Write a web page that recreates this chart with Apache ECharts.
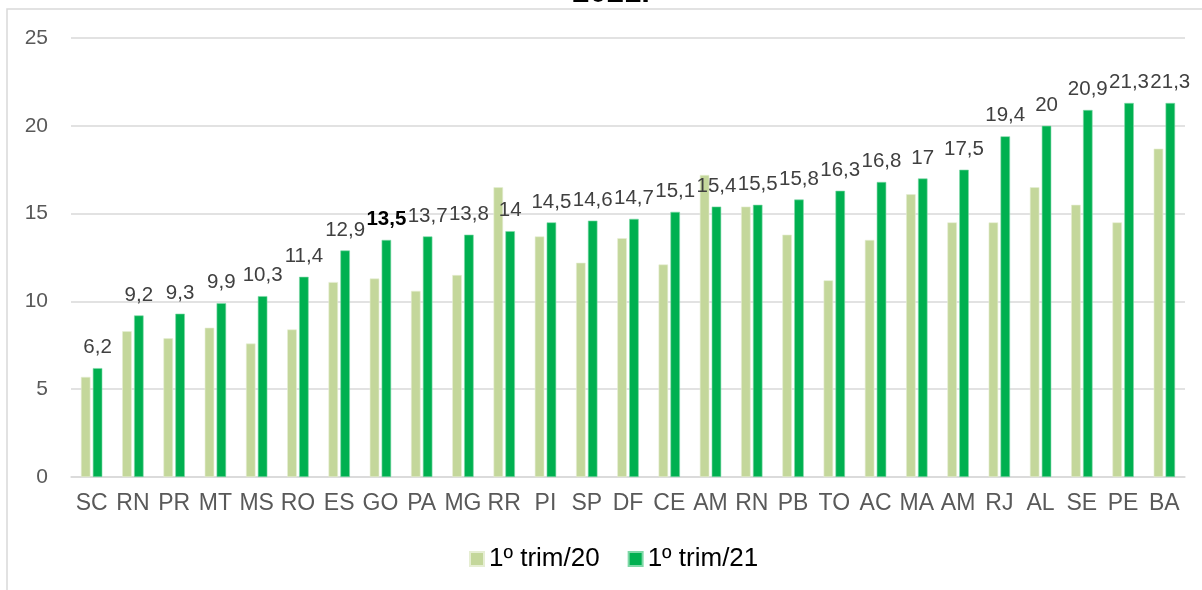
<!DOCTYPE html>
<html>
<head>
<meta charset="utf-8">
<script src="https://cdn.jsdelivr.net/npm/echarts@6/dist/echarts.min.js"></script>
<style>
html,body{margin:0;padding:0;background:#fff;}
#chart{width:1202px;height:590px;}
</style>
</head>
<body>
<div id="chart"></div>
<script>
const categories = ['SC','RN','PR','MT','MS','RO','ES','GO','PA','MG','RR','PI','SP','DF','CE','AM','RN','PB','TO','AC','MA','AM','RJ','AL','SE','PE','BA'];
const trim20 = [5.7,8.3,7.9,8.5,7.6,8.4,11.1,11.3,10.6,11.5,16.5,13.7,12.2,13.6,12.1,17.2,15.4,13.8,11.2,13.5,16.1,14.5,14.5,16.5,15.5,14.5,18.7];
const trim21 = [6.2,9.2,9.3,9.9,10.3,11.4,12.9,13.5,13.7,13.8,14,14.5,14.6,14.7,15.1,15.4,15.5,15.8,16.3,16.8,17,17.5,19.4,20,20.9,21.3,21.3];
const seriesNames = ['1º trim/20','1º trim/21'];
const yTicks = [0,5,10,15,20,25];
const titleText = '2021.';
const boldIndex = 7;

const chart = echarts.init(document.getElementById('chart'));
const fmt = v => String(v).replace('.', ',');
const font = 'Arial, "Liberation Sans", sans-serif';

const dark = trim21.map((v,i) => i === boldIndex
  ? {value: v, label: {fontWeight: 'bold', color: '#000'}}
  : v);

chart.setOption({
  animation: false,
  textStyle: {fontFamily: font},
  graphic: [
    {type:'rect', shape:{x:7, y:9, width:1400, height:800}, style:{fill:'none', stroke:'#d9d9d9', lineWidth:1.5}, silent:true},
    {type:'text', style:{text:titleText, x:611, y:8.5, textAlign:'center', textVerticalAlign:'bottom', font:'bold 31px Arial, "Liberation Sans", sans-serif', fill:'#000'}}
  ],
  legend: {
    data: seriesNames,
    bottom: 13,
    left: 464,
    itemWidth: 14, itemHeight: 14,
    itemGap: 28,
    icon: 'rect',
    textStyle: {fontSize: 26, color: '#000', fontFamily: font}
  },
  grid: {left: 71, right: 17, top: 38, bottom: 113, containLabel: false},
  xAxis: {
    type: 'category',
    data: categories.map((c,i) => i),
    axisLine: {lineStyle: {color: '#d9d9d9', width: 1.5}},
    axisTick: {show: false},
    axisLabel: {formatter: v => categories[+v], fontSize: 23, color: '#595959', margin: 15, interval: 0, fontFamily: font}
  },
  yAxis: {
    type: 'value',
    min: yTicks[0], max: yTicks[yTicks.length-1], interval: 5,
    axisLine: {show: false},
    axisTick: {show: false},
    splitLine: {lineStyle: {color: '#d9d9d9', width: 1.5}},
    axisLabel: {fontSize: 21, color: '#595959', margin: 23, fontFamily: font}
  },
  series: [
    {
      name: seriesNames[0], type: 'bar', data: trim20,
      barWidth: 9.5, barGap: '25%',
      itemStyle: {color: '#c4d79b', borderColor: '#e6eed3', borderWidth: 0.6}
    },
    {
      name: seriesNames[1], type: 'bar', data: dark,
      barWidth: 9.5,
      itemStyle: {color: '#00b050', borderColor: '#7fd8a7', borderWidth: 0.6},
      label: {show: true, position: 'top', distance: 10, formatter: p => fmt(p.value), fontSize: 20.5, color: '#404040', fontFamily: font}
    }
  ]
});
</script>
</body>
</html>
